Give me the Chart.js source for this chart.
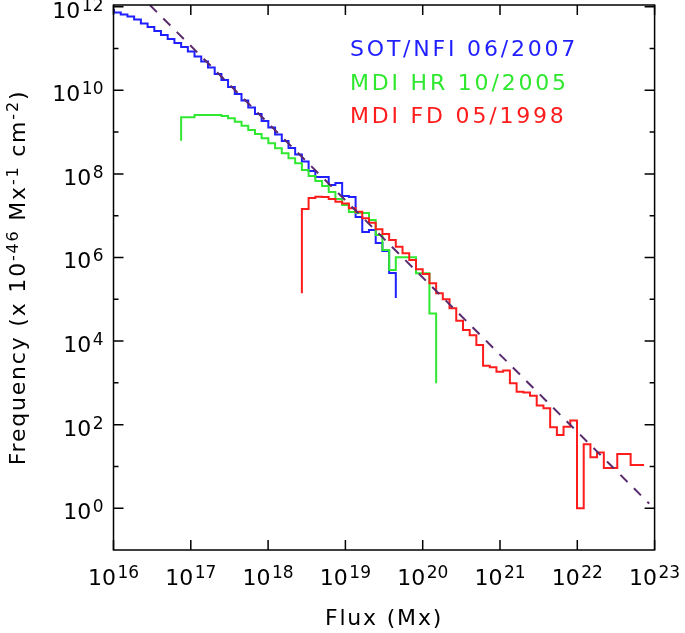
<!DOCTYPE html>
<html>
<head>
<meta charset="utf-8">
<script src="https://cdn.jsdelivr.net/npm/chart.js@4.4.1/dist/chart.umd.min.js"></script>
<style>
  html, body { margin: 0; padding: 0; background: #fff; }
  #wrap { width: 685px; height: 633px; }
</style>
</head>
<body>
<div id="wrap"><canvas id="chart"></canvas></div>
<script>
// log10 of the histogram bin edges (Mx), shared by all three data sets
const binEdgeExp = [
  15.920, 16.007, 16.094, 16.180, 16.267, 16.354, 16.441, 16.528, 16.614, 16.701,
  16.788, 16.875, 16.962, 17.048, 17.135, 17.222, 17.309, 17.396, 17.482, 17.569,
  17.656, 17.743, 17.830, 17.916, 18.003, 18.090, 18.177, 18.264, 18.350, 18.437,
  18.524, 18.611, 18.698, 18.784, 18.871, 18.958, 19.045, 19.132, 19.218, 19.305,
  19.392, 19.479, 19.566, 19.652, 19.739, 19.826, 19.913, 20.000, 20.087, 20.174,
  20.260, 20.347, 20.434, 20.521, 20.608, 20.694, 20.781, 20.868, 20.954, 21.041,
  21.128, 21.215, 21.302, 21.388, 21.475, 21.562, 21.649, 21.736, 21.822, 21.909,
  21.996, 22.083, 22.170, 22.256, 22.343, 22.430, 22.517, 22.604, 22.690, 22.777,
  22.864
];

// SOT/NFI 06/2007 (blue), log10 frequency per bin, starting at bin 0
const sotStartBin = 0;
const sotLogFreq = [
  11.921, 11.861, 11.813, 11.766, 11.694, 11.598, 11.514, 11.419, 11.323, 11.227,
  11.132, 11.036, 10.928, 10.809, 10.689, 10.545, 10.390, 10.246, 10.079, 9.911,
  9.756, 9.589, 9.433, 9.266, 9.110, 8.943, 8.787, 8.620, 8.464, 8.297,
  8.069, 7.926, 7.926, 7.734, 7.782, 7.471, 7.447, 6.969, 6.610, 6.658,
  6.347, 6.155, 5.629
];
const sotEndLog = 5.031;

// MDI HR 10/2005 (green)
const hrStartBin = 11;
const hrStartLog = 8.794;
const hrLogFreq = [
  9.354, 9.354, 9.409, 9.409, 9.409, 9.409, 9.385, 9.330, 9.249, 9.153,
  9.050, 8.955, 8.852, 8.732, 8.612, 8.493, 8.373, 8.254, 8.093, 7.950,
  7.830, 7.711, 7.567, 7.400, 7.256, 7.089, 7.072, 7.065, 6.897, 6.538,
  6.179, 5.701, 6.005, 6.005, 6.005, 5.622, 5.622, 4.660
];
const hrEndLog = 2.990;

// MDI FD 05/1998 (red)
const fdStartBin = 29;
const fdStartLog = 5.144;
const fdLogFreq = [
  7.160, 7.423, 7.455, 7.447, 7.400, 7.335, 7.292, 7.177, 7.096, 6.938,
  6.833, 6.675, 6.562, 6.419, 6.258, 6.100, 5.940, 5.718, 5.605, 5.383,
  5.144, 5.000, 4.785, 4.488, 4.266, 4.139, 3.907, 3.411, 3.373, 3.268,
  3.297, 2.990, 2.789, 2.766, 2.694, 2.455, 2.392, 1.938, 1.754, 1.952,
  2.096, 0.000, 1.531, 1.220, 1.335, 0.964, 0.964, 1.299, 1.299, 1.036,
  1.036
];

// power-law fit (dashed), end points
const fitFluxExp = [16.47, 22.93];
const fitFreqExp = [12.04, 0.11];

const legendLabels = ['SOT/NFI 06/2007', 'MDI HR 10/2005', 'MDI FD 05/1998'];
const xTickExp = [16, 17, 18, 19, 20, 21, 22, 23];
const yTickExp = [0, 2, 4, 6, 8, 10, 12];
const yMinorExp = [1, 3, 5, 7, 9, 11];

const BLUE = '#1f1fff';
const GREEN = '#2fe82f';
const RED = '#ff1c1c';
const FIT = '#5a2a6e';
const FONT = '"DejaVu Sans", sans-serif';

// histogram outline: vertical at the first edge, flat tops, drop at the end
function stepPoints(startBin, logFreq, startLog, endLog) {
  const pts = [];
  const xAt = i => 10 ** binEdgeExp[startBin + i];
  if (startLog !== null) pts.push({ x: xAt(0), y: 10 ** startLog });
  logFreq.forEach((v, i) => pts.push({ x: xAt(i), y: 10 ** v }));
  const n = logFreq.length;
  pts.push({ x: xAt(n), y: 10 ** logFreq[n - 1] });
  if (endLog !== null) pts.push({ x: xAt(n), y: 10 ** endLog });
  return pts;
}

function drawPower(ctx, exp, x, baseY, align) {
  ctx.font = '22px ' + FONT;
  const wMain = ctx.measureText('10').width;
  ctx.font = '17px ' + FONT;
  const wExp = ctx.measureText(String(exp)).width;
  const total = wMain + 1.5 + wExp;
  const x0 = align === 'right' ? x - total : x - total / 2;
  ctx.textAlign = 'left';
  ctx.font = '22px ' + FONT;
  ctx.fillText('10', x0, baseY);
  ctx.font = '17px ' + FONT;
  ctx.fillText(String(exp), x0 + wMain + 1.5, baseY - 7);
}

const axesPlugin = {
  id: 'axes',
  afterDatasetsDraw(chart) {
    const { ctx, chartArea: a, scales: { x, y } } = chart;
    ctx.save();
    ctx.strokeStyle = '#000';
    ctx.lineWidth = 1.5;
    ctx.strokeRect(a.left, a.top, a.right - a.left, a.bottom - a.top);

    ctx.beginPath();
    xTickExp.forEach(e => {
      const px = x.getPixelForValue(10 ** e);
      ctx.moveTo(px, a.bottom); ctx.lineTo(px, a.bottom - 10);
      ctx.moveTo(px, a.top); ctx.lineTo(px, a.top + 10);
    });
    yTickExp.forEach(e => {
      const py = y.getPixelForValue(10 ** e);
      ctx.moveTo(a.left, py); ctx.lineTo(a.left + 10, py);
      ctx.moveTo(a.right, py); ctx.lineTo(a.right - 10, py);
    });
    yMinorExp.forEach(e => {
      const py = y.getPixelForValue(10 ** e);
      ctx.moveTo(a.left, py); ctx.lineTo(a.left + 5, py);
      ctx.moveTo(a.right, py); ctx.lineTo(a.right - 5, py);
    });
    ctx.stroke();

    ctx.fillStyle = '#000';
    ctx.textBaseline = 'alphabetic';
    ctx.letterSpacing = '0px';
    xTickExp.forEach(e => {
      drawPower(ctx, e, x.getPixelForValue(10 ** e), a.bottom + 34.5, 'center');
    });
    yTickExp.forEach(e => {
      drawPower(ctx, e, a.left - 10, y.getPixelForValue(10 ** e) + 11, 'right');
    });

    // axis titles
    ctx.letterSpacing = '1.8px';
    ctx.font = '22px ' + FONT;
    ctx.textAlign = 'center';
    ctx.fillText('Flux (Mx)', (a.left + a.right) / 2, a.bottom + 74.5);

    const parts = [
      ['Frequency (x 10', false], ['-46', true], [' Mx', false],
      ['-1', true], [' cm', false], ['-2', true], [')', false]
    ];
    ctx.textAlign = 'left';
    let total = 0;
    parts.forEach(p => {
      ctx.font = (p[1] ? '16px ' : '22px ') + FONT;
      total += ctx.measureText(p[0]).width;
    });
    ctx.save();
    ctx.translate(25, (a.top + a.bottom) / 2);
    ctx.rotate(-Math.PI / 2);
    let cx = -total / 2;
    parts.forEach(p => {
      ctx.font = (p[1] ? '16px ' : '22px ') + FONT;
      ctx.fillText(p[0], cx, p[1] ? -7 : 0);
      cx += ctx.measureText(p[0]).width;
    });
    ctx.restore();

    // legend
    ctx.letterSpacing = '2.8px';
    ctx.font = '22px ' + FONT;
    ctx.textAlign = 'left';
    const colors = [BLUE, GREEN, RED];
    legendLabels.forEach((t, i) => {
      ctx.fillStyle = colors[i];
      ctx.fillText(t, 350, 56 + i * 33.5);
    });
    ctx.restore();
  }
};

const lineStyle = { pointRadius: 0, borderWidth: 2, fill: false, tension: 0 };

new Chart(document.getElementById('chart'), {
  type: 'line',
  data: {
    datasets: [
      {
        ...lineStyle,
        label: 'fit',
        data: fitFluxExp.map((e, i) => ({ x: 10 ** e, y: 10 ** fitFreqExp[i] })),
        borderColor: FIT,
        borderDash: [10, 9]
      },
      {
        ...lineStyle,
        label: legendLabels[2],
        data: stepPoints(fdStartBin, fdLogFreq, fdStartLog, null),
        borderColor: RED,
        stepped: true
      },
      {
        ...lineStyle,
        label: legendLabels[1],
        data: stepPoints(hrStartBin, hrLogFreq, hrStartLog, hrEndLog),
        borderColor: GREEN,
        stepped: true
      },
      {
        ...lineStyle,
        label: legendLabels[0],
        data: stepPoints(sotStartBin, sotLogFreq, null, sotEndLog),
        borderColor: BLUE,
        stepped: true
      }
    ]
  },
  options: {
    responsive: true,
    maintainAspectRatio: false,
    animation: false,
    devicePixelRatio: 1,
    layout: { padding: { top: 5, right: 30.4, bottom: 0, left: 0 } },
    plugins: { legend: { display: false }, tooltip: { enabled: false } },
    scales: {
      x: {
        type: 'logarithmic',
        min: 1e16,
        max: 1e23,
        grid: { display: false },
        border: { display: false },
        ticks: { display: false },
        afterFit: s => { s.height = 83; }
      },
      y: {
        type: 'logarithmic',
        min: 0.1,
        max: 1.1e12,
        grid: { display: false },
        border: { display: false },
        ticks: { display: false },
        afterFit: s => { s.width = 113.5; }
      }
    }
  },
  plugins: [axesPlugin]
});
</script>
</body>
</html>
